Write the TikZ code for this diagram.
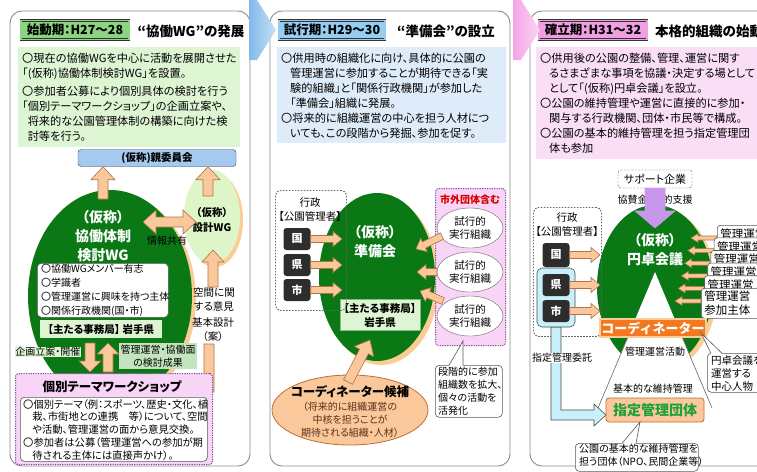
\documentclass[tikz,border=0pt]{standalone}
\usepackage{fontspec}
\setmainfont{Noto Sans CJK JP}[RawFeature=+palt]
\usetikzlibrary{shapes.geometric,calc}
\definecolor{dgreen}{RGB}{10,120,20}
\definecolor{peach}{RGB}{250,200,155}
\definecolor{peachd}{RGB}{175,115,70}
\definecolor{shadoworange}{RGB}{250,205,150}
\definecolor{lgreen}{RGB}{222,245,212}
\definecolor{mgreen}{RGB}{195,228,190}
\definecolor{hgreen}{RGB}{140,212,130}
\definecolor{lblue}{RGB}{222,235,248}
\definecolor{hblue}{RGB}{150,205,240}
\definecolor{lpink}{RGB}{250,222,246}
\definecolor{hpink}{RGB}{240,160,225}
\definecolor{wspink}{RGB}{248,212,246}
\definecolor{dotpurple}{RGB}{130,70,150}
\definecolor{arrowblue}{RGB}{130,185,235}
\definecolor{arrowpink}{RGB}{245,165,230}
\definecolor{oyablue}{RGB}{165,202,240}
\definecolor{pgreen}{RGB}{222,245,200}
\definecolor{darkbox}{RGB}{45,45,45}
\definecolor{cyanbox}{RGB}{200,240,250}
\definecolor{lavender}{RGB}{200,150,235}
\definecolor{coordorange}{RGB}{244,120,30}
\definecolor{tgreen}{RGB}{30,160,60}
\definecolor{panelgray}{RGB}{140,140,140}
\definecolor{corbrown}{RGB}{190,110,50}
\definecolor{txtbrown}{RGB}{90,50,25}
\tikzset{
  panel/.style={draw=panelgray, line width=0.9pt, rounded corners=12pt, fill=white},
  hdr/.style={fill=#1, draw=black!80, double=#1, double distance=1.4pt, minimum height=19pt, inner xsep=4pt, inner ysep=0pt, font=\fontsize{12.5}{14}\selectfont\bfseries},
  ttl/.style={font=\fontsize{13.5}{16}\selectfont\bfseries, inner sep=0pt},
  tbox/.style={fill=#1, inner sep=0pt, anchor=north west},
  body/.style={font=\fontsize{11.2}{15}\selectfont, align=left, inner sep=0pt, anchor=north west},
  wtitle/.style={font=\fontsize{14}{19}\selectfont\bfseries, text=white, align=center, inner sep=0pt},
  kbox/.style={fill=darkbox, rounded corners=3pt, minimum width=27pt, minimum height=22pt, text=white, font=\fontsize{11}{12}\selectfont\bfseries, inner sep=0pt},
  gyobox/.style={draw=black!60, dash pattern=on 1.6pt off 1.4pt, line width=0.9pt, rounded corners=5pt, inner sep=0pt, anchor=north west},
  pinkbox/.style={fill=wspink, draw=dotpurple, dash pattern=on 1.2pt off 1.2pt, line width=1pt, rounded corners=3pt, inner sep=0pt, anchor=north west},
  callout/.style={draw=black!65, fill=white, rounded corners=4pt, line width=0.6pt, inner sep=0pt, anchor=north west},
  arrowstyle/.style={fill=peach, draw=peachd, line width=0.6pt, line join=miter},
  small/.style={font=\fontsize{10}{13}\selectfont, inner sep=0.5pt},
  mbox/.style={draw=black!65, fill=white, rounded corners=3pt, line width=0.6pt, anchor=north west, text width=56pt, align=left, minimum height=18pt, inner xsep=3pt, inner ysep=0pt, font=\fontsize{11.5}{13}\selectfont},
}
\newcommand\blkarrow[6][]{%
  \coordinate (bahd) at ($(#3)!#6!(#2)$);
  \filldraw[arrowstyle,#1] ($(#2)!#4!90:(#3)$) -- ($(bahd)!#4!90:(#3)$) -- ($(bahd)!#5!90:(#3)$) -- (#3) -- ($(bahd)!#5!-90:(#3)$) -- ($(bahd)!#4!-90:(#3)$) -- ($(#2)!#4!-90:(#3)$) -- cycle;%
}
\newcommand\dblkarrow[6][]{%
  \coordinate (dbha) at ($(#2)!#6!(#3)$);
  \coordinate (dbhb) at ($(#3)!#6!(#2)$);
  \filldraw[arrowstyle,#1] (#2) -- ($(dbha)!#5!90:(#3)$) -- ($(dbha)!#4!90:(#3)$) -- ($(dbhb)!#4!90:(#3)$) -- ($(dbhb)!#5!90:(#3)$) -- (#3) -- ($(dbhb)!#5!-90:(#3)$) -- ($(dbhb)!#4!-90:(#3)$) -- ($(dbha)!#4!-90:(#3)$) -- ($(dbha)!#5!-90:(#3)$) -- cycle;%
}
\begin{document}
\begin{tikzpicture}[x=1pt,y=-1pt]
\useasboundingbox (0,0) rectangle (757,471);
\clip (0,0) rectangle (757,471);
\fill[white] (0,0) rectangle (757,471);

% ================= LEFT PANEL =================
\draw[panel] (10,11) rectangle (250,466);
\node[hdr=hgreen, minimum width=108pt] (hd1) at (75,30) {始動期：H27～28};
\node[ttl] (tt1) at (191,31) {“協働WG”の発展};
\node[tbox=lgreen, minimum width=222pt, minimum height=100pt] (tb1) at (18,47) {};
\node[body] (tx1) at (22,53) {〇現在の協働WGを中心に活動を展開させた\\「(仮称)協働体制検討WG」を設置。\\[3pt]〇参加者公募により個別具体の検討を行う\\「個別テーマワークショップ」の企画立案や、\\\hspace*{0.5em}将来的な公園管理体制の構築に向けた検\\\hspace*{0.5em}討等を行う。};
\node[draw=black!75, fill=oyablue, rounded corners=3pt, minimum width=158pt, minimum height=17pt, inner sep=0pt, font=\fontsize{10.5}{12}\selectfont\bfseries] (oya) at (157,158) {(仮称)親委員会};

\node[ellipse, fill=shadoworange, minimum width=164pt, minimum height=212pt, inner sep=0pt] (wgs) at (114,299) {};
\node[ellipse, fill=dgreen, minimum width=164pt, minimum height=212pt, inner sep=0pt] (wg) at (110,296) {};
\node[wtitle] (wgt) at (103,236) {（仮称）\\協働体制\\検討WG};
\node[callout, minimum width=131pt, minimum height=54pt] (mem) at (37,263) {};
\node[body, font=\fontsize{10}{13.8}\selectfont] (memt) at (41,264) {〇協働WGメンバー有志\\〇学識者\\〇管理運営に興味を持つ主体\\〇関係行政機関(国・市)};
\node[fill=lgreen, minimum width=122pt, minimum height=18pt, inner sep=0pt, font=\fontsize{10.5}{12}\selectfont\bfseries] (jim1) at (101,329) {【主たる事務局】\ 岩手県};

\node[ellipse, fill=shadoworange, minimum width=56pt, minimum height=94pt, inner sep=0pt] (skws) at (215,220) {};
\node[ellipse, fill=pgreen, minimum width=56pt, minimum height=94pt, inner sep=0pt] (skw) at (212,217) {};
\node[font=\fontsize{10.5}{15}\selectfont\bfseries, align=center, inner sep=0pt] (skwt) at (212,220) {（仮称）\\設計WG};

\blkarrow{103,199}{oya.south -| 103,0}{5pt}{12pt}{13pt}
\blkarrow{208,196}{oya.south -| 208,0}{5pt}{12pt}{13pt}
\dblkarrow{143,222}{196,222}{5pt}{12pt}{13pt}
\node[small] (jks) at (167,241) {情報共有};
\blkarrow{213,287}{213,250}{5pt}{11pt}{12pt}
\node[font=\fontsize{10.5}{14}\selectfont, align=center, inner sep=0pt] (kuk) at (214,300) {空間に関\\する意見};
\node[font=\fontsize{10.5}{14}\selectfont, align=center, inner sep=0pt] (kks) at (213,330) {基本設計\\（案）};
\filldraw[arrowstyle] (204,344) -- (214,344) -- (214,392) -- (195,392) -- (195,398) -- (183,387) -- (195,376) -- (195,382) -- (204,382) -- cycle;

\blkarrow{90,343}{90,372}{5pt}{11pt}{11pt}
\blkarrow{108,372}{108,343}{5pt}{11pt}{11pt}
\node[small, fill=lgreen] (kik) at (48,352) {企画立案・開催};
\node[small, fill=mgreen, align=center, inner sep=1.5pt] (kkt) at (158,356) {管理運営・協働面\\の検討成果};

\node[pinkbox, minimum width=197pt, minimum height=91pt] (ws) at (15,373) {};
\node[font=\fontsize{12.5}{14}\selectfont\bfseries, inner sep=0pt] (wst) at (112,387) {個別テーマワークショップ};
\node[callout, minimum width=187pt, minimum height=64pt] (wsb) at (20,397) {};
\node[body, font=\fontsize{10.3}{12.8}\selectfont] (wsx) at (23,399) {〇個別テーマ（例：スポーツ、歴史・文化、植\\\hspace*{0.9em}栽、市街地との連携　等）について、空間\\\hspace*{0.9em}や活動、管理運営の面から意見交換。\\〇参加者は公募（管理運営への参加が期\\\hspace*{0.9em}待される主体には直接声かけ）。};

% ================= MIDDLE PANEL =================
\draw[panel] (270,11) rectangle (510,466);
\node[hdr=hblue, minimum width=106pt] (hd2) at (332,30) {試行期：H29～30};
\node[ttl] (tt2) at (446,31) {“準備会”の設立};
\node[tbox=lblue, minimum width=229pt, minimum height=96pt] (tb2) at (277,47) {};
\node[body] (tx2) at (281,53) {〇供用時の組織化に向け、具体的に公園の\\\hspace*{0.8em}管理運営に参加することが期待できる「実\\\hspace*{0.8em}験的組織」と「関係行政機関」が参加した\\\hspace*{0.8em}「準備会」組織に発展。\\〇将来的に組織運営の中心を担う人材につ\\\hspace*{0.8em}いても、この段階から発掘、参加を促す。};

\node[ellipse, fill=shadoworange, minimum width=116pt, minimum height=168pt, inner sep=0pt] (jbks) at (381,281) {};
\node[ellipse, fill=dgreen, minimum width=116pt, minimum height=168pt, inner sep=0pt] (jbk) at (377,277) {};
\node[wtitle] (jbkt) at (375,242) {（仮称）\\準備会};
\node[fill=lgreen, draw=dgreen!50, minimum width=80pt, minimum height=31pt, inner sep=0pt, align=center, font=\fontsize{10.5}{14}\selectfont\bfseries] (jim2) at (380,315) {【主たる事務局】\\岩手県};

\node[gyobox, minimum width=71pt, minimum height=120pt] (gy2) at (275,190) {};
\node[font=\fontsize{10.5}{14}\selectfont, align=center, inner sep=0pt] (gy2t) at (310,210) {行政\\【公園管理者】};
\node[kbox] (kuni2) at (297,239) {国};
\node[kbox] (ken2) at (297,265) {県};
\node[kbox] (shi2) at (297,290) {市};
\blkarrow{kuni2.east}{342,239}{3.5pt}{7.5pt}{9pt}
\blkarrow{ken2.east}{342,265}{3.5pt}{7.5pt}{9pt}
\blkarrow{shi2.east}{342,290}{3.5pt}{7.5pt}{9pt}

\node[pinkbox, minimum width=70pt, minimum height=157pt] (sgb) at (435,188) {};
\node[font=\fontsize{10}{12}\selectfont\bfseries, text=red!85!black, inner sep=0pt] (sgbt) at (470,200) {市外団体含む};
\node[ellipse, draw=black!60, fill=white, minimum width=66pt, minimum height=40pt, inner sep=0pt, align=center, font=\fontsize{10.5}{13}\selectfont] (sk1) at (470,228) {試行的\\実行組織};
\node[ellipse, draw=black!60, fill=white, minimum width=66pt, minimum height=40pt, inner sep=0pt, align=center, font=\fontsize{10.5}{13}\selectfont] (sk2) at (470,272) {試行的\\実行組織};
\node[ellipse, draw=black!60, fill=white, minimum width=66pt, minimum height=40pt, inner sep=0pt, align=center, font=\fontsize{10.5}{13}\selectfont] (sk3) at (470,316) {試行的\\実行組織};
\blkarrow{442,236}{416,249}{3.5pt}{7.5pt}{9pt}
\blkarrow{sk2.west}{417,272}{3.5pt}{7.5pt}{9pt}
\blkarrow{443,301}{420,291}{3.5pt}{7.5pt}{9pt}

\node[callout, minimum width=67pt, minimum height=52pt] (dkt) at (435,365) {};
\fill[white] (449,366) -- (463,341) -- (463,366) -- cycle;
\draw[black!65, line width=0.6pt] (449,365.3) -- (463,341) -- (463,365.3);
\node[body, font=\fontsize{10}{13}\selectfont] (dktx) at (438,367) {段階的に参加\\組織数を拡大、\\個々の活動を\\活発化};

\node[ellipse, draw=corbrown, fill=peach, line width=0.8pt, minimum width=156pt, minimum height=70pt, inner sep=0pt] (cdc) at (350,410) {};
\node[font=\fontsize{12.5}{14}\selectfont\bfseries, inner sep=0pt] (cdct) at (350,392) {コーディネーター候補};
\node[font=\fontsize{10}{13}\selectfont, text=txtbrown, align=center, inner sep=0pt] (cdcx) at (350,420) {（将来的に組織運営の\\中核を担うことが\\期待される組織・人材）};
\blkarrow{348,382}{370,340}{5pt}{11pt}{13pt}

% ================= RIGHT PANEL =================
\draw[panel] (530,11) rectangle (780,466);
\node[hdr=hpink, minimum width=108pt] (hd3) at (593,30) {確立期：H31～32};
\node[ttl, anchor=west] (tt3) at (655,31) {本格的組織の始動};
\node[tbox=lpink, minimum width=235pt, minimum height=112pt] (tb3) at (536,47) {};
\node[body] (tx3) at (540,53) {〇供用後の公園の整備、管理、運営に関す\\\hspace*{0.8em}るさまざまな事項を協議・決定する場として\\\hspace*{0.8em}として「(仮称)円卓会議」を設立。\\〇公園の維持管理や運営に直接的に参加・\\\hspace*{0.8em}関与する行政機関、団体・市民等で構成。\\〇公園の基本的維持管理を担う指定管理団\\\hspace*{0.8em}体も参加};

\node[draw=black!70, dash pattern=on 2pt off 1.5pt, rounded corners=3pt, minimum width=74pt, minimum height=18pt, inner sep=0pt, font=\fontsize{11}{12}\selectfont] (sup) at (655,179) {サポート企業};
\node[small] (kyo) at (655,200) {協賛金・人的支援};

\node[ellipse, fill=shadoworange, minimum width=116pt, minimum height=164pt, inner sep=0pt] (ents) at (659,290) {};
\node[ellipse, fill=dgreen, minimum width=116pt, minimum height=164pt, inner sep=0pt] (ent) at (655,287) {};
\fill[white] (655,272) -- (593,420) -- (717,420) -- cycle;
\draw[black!60, line width=0.6pt] (628,337) -- (598,408);
\draw[black!60, line width=0.6pt] (682,337) -- (712,408);
\node[wtitle] (entt) at (655,250) {（仮称）\\円卓会議};
\blkarrow[fill=lavender, draw=lavender]{sup.south}{655,228}{10pt}{20pt}{17pt}

\foreach \i in {0,...,5} {
  \pgfmathsetmacro\ax{717-3.2*\i}
  \pgfmathsetmacro\ay{238+12.6*\i}
  \pgfmathsetmacro\bx{\ax-26}
  \blkarrow{\ax,\ay}{\bx,\ay}{2pt}{4.5pt}{7pt}
}
\node[mbox] (mb0) at (717,225) {管理運営};
\node[mbox] (mb1) at (713.8,237.6) {管理運営};
\node[mbox] (mb2) at (710.6,250.2) {管理運営};
\node[mbox] (mb3) at (707.4,262.8) {管理運営};
\node[mbox] (mb4) at (704.2,275.4) {管理運営};
\node[mbox, minimum height=30pt, font=\fontsize{11.5}{14}\selectfont] (mb5) at (701,288) {管理運営\\参加主体};

\node[gyobox, minimum width=68pt, minimum height=129pt] (gy3) at (533,207) {};
\node[font=\fontsize{10.5}{14}\selectfont, align=center, inner sep=0pt] (gy3t) at (567,225) {行政\\【公園管理者】};
\filldraw[fill=cyanbox, draw=black!70, line width=0.6pt] (551,327) -- (551,420) -- (594,420) -- (594,426) -- (606,415) -- (594,404) -- (594,410) -- (561,410) -- (561,327) -- cycle;
\node[fill=cyanbox, draw=black!70, line width=0.6pt, rounded corners=5pt, minimum width=38pt, minimum height=59pt, inner sep=0pt] (cyb) at (556,297.5) {};
\node[kbox, minimum height=24pt] (kuni3) at (556,255) {国};
\node[kbox] (ken3) at (556,285) {県};
\node[kbox] (shi3) at (556,311) {市};
\blkarrow{kuni3.east}{600,255}{3.5pt}{7.5pt}{9pt}
\blkarrow{ken3.east}{600,285}{3.5pt}{7.5pt}{9pt}
\blkarrow{shi3.east}{600,311}{3.5pt}{7.5pt}{9pt}
\node[small, fill=white] (sti) at (562,358) {指定管理委託};

\node[fill=coordorange, draw=shadoworange, line width=1.5pt, minimum width=106pt, minimum height=18pt, inner sep=0pt, text=white, font=\fontsize{13}{14}\selectfont\bfseries\addfontfeatures{RawFeature=-palt}] (crd) at (653,328) {コーディネーター};
\node[callout, minimum width=60pt, minimum height=39pt] (cho) at (707,353) {};
\fill[white] (711,354) -- (701,333) -- (722,354) -- cycle;
\draw[black!65, line width=0.6pt] (711,353.3) -- (701,333) -- (722,353.3);
\node[body, font=\fontsize{10.5}{13}\selectfont] (chox) at (711,355) {円卓会議を\\運営する\\中心人物};

\node[small] (kuk3) at (655,352) {管理運営活動};
\node[small] (kih) at (653,389) {基本的な維持管理};
\node[draw=corbrown, fill=peach, line width=0.8pt, rounded corners=3pt, minimum width=98pt, minimum height=24pt, inner sep=0pt, text=tgreen, font=\fontsize{14}{16}\selectfont\bfseries] (sgd) at (655,410) {指定管理団体};
\node[callout, minimum width=123pt, minimum height=28pt] (sgdc) at (575,443) {};
\fill[white] (622,444) -- (640,422) -- (636,444) -- cycle;
\draw[black!65, line width=0.6pt] (622,443.3) -- (640,422) -- (636,443.3);
\node[body, font=\fontsize{10}{13}\selectfont] (sgdx) at (579,444) {公園の基本的な維持管理を\\担う団体（NPO、民間企業等）};

% ================= STAGE ARROWS =================
\shade[left color=arrowblue, right color=arrowblue!45!white] (249,0) -- (257,0) -- (276,30) -- (257,60) -- (249,60) -- cycle;
\shade[left color=arrowpink, right color=arrowpink!45!white] (513,0) -- (521,0) -- (540,30) -- (521,60) -- (513,60) -- cycle;
\end{tikzpicture}
\end{document}
